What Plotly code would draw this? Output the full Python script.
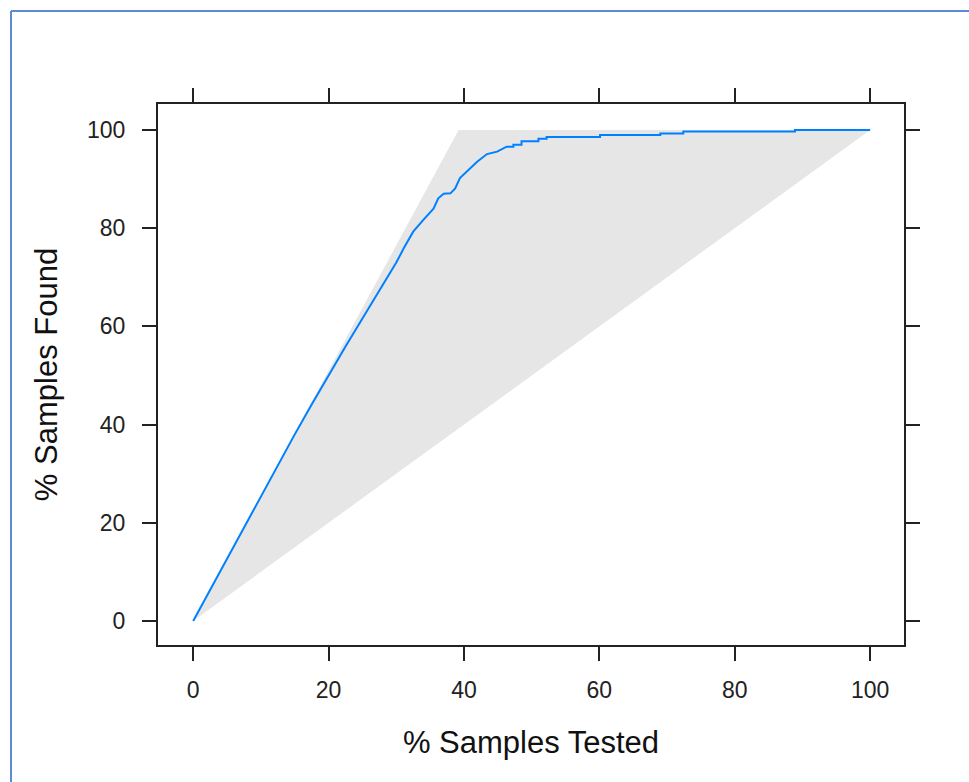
import plotly.graph_objects as go

# Lift curve: cumulative % of samples found vs % of samples tested
pct_tested = [0, 5, 10, 15, 17.5, 20, 22.5, 25, 27.5, 30, 31.1, 32.5, 34, 35.5, 36.2,
              37, 38, 38.7, 39.4, 40.7, 41.9, 43.4, 44.9, 46.3, 47.3, 47.3, 48.5, 48.5,
              51, 51, 52.2, 52.2, 60.1, 60.1, 69, 69, 72.4, 72.4, 88.9, 88.9, 100]
pct_found = [0, 12.7, 25.4, 38.0, 44.1, 50.1, 55.9, 61.6, 67.3, 73.0, 75.9, 79.3, 81.7,
             84.0, 86.1, 87.0, 87.1, 88.1, 90.2, 91.9, 93.5, 95.1, 95.6, 96.6, 96.6,
             97.0, 97.0, 97.7, 97.7, 98.2, 98.2, 98.6, 98.6, 99.0, 99.0, 99.3, 99.3,
             99.7, 99.7, 100, 100]

# Region between a perfect model and random ordering
event_rate = 39.2
region_x = [0, event_rate, 100, 0]
region_y = [0, 100, 100, 0]

x_ticks = [0, 20, 40, 60, 80, 100]
y_ticks = [0, 20, 40, 60, 80, 100]

W, H = 969, 782
ML, MR, MT, MB = 158, 65, 104, 137

fig = go.Figure()
fig.add_trace(go.Scatter(x=region_x, y=region_y, fill="toself", mode="lines",
                         line=dict(width=0, color="#E6E6E6"), fillcolor="#E6E6E6",
                         hoverinfo="skip", showlegend=False))
fig.add_trace(go.Scatter(x=pct_tested, y=pct_found, mode="lines",
                         line=dict(color="#0080FF", width=2),
                         showlegend=False))

axis_common = dict(showline=True, linecolor="#222222", linewidth=2, mirror="ticks",
                   ticks="outside", ticklen=14, tickwidth=2, tickcolor="#222222",
                   showgrid=False, zeroline=False,
                   tickfont=dict(family="Liberation Sans, Arial", size=23, color="#222222"))

fig.update_xaxes(range=[-5.2, 105.0], tickvals=x_ticks, ticklabelstandoff=9,
                 title=dict(text="% Samples Tested", standoff=30,
                            font=dict(family="Liberation Sans, Arial", size=31, color="#111111")),
                 **axis_common)
fig.update_yaxes(range=[-4.9, 105.3], tickvals=y_ticks, ticklabelstandoff=12,
                 title=dict(text="% Samples Found", standoff=20,
                            font=dict(family="Liberation Sans, Arial", size=31, color="#111111")),
                 **axis_common)

# Thin blue frame along the top and left edges of the page
pw = W - ML - MR
ph = H - MT - MB
def px_to_paper_x(px):
    return (px - ML) / pw
def py_to_paper_y(py):
    return (H - MB - py) / ph

frame_color = "#5B8BD0"
fig.add_shape(type="line", xref="paper", yref="paper",
              x0=px_to_paper_x(11), x1=px_to_paper_x(W + 5),
              y0=py_to_paper_y(11), y1=py_to_paper_y(11),
              line=dict(color=frame_color, width=2))
fig.add_shape(type="line", xref="paper", yref="paper",
              x0=px_to_paper_x(11), x1=px_to_paper_x(11),
              y0=py_to_paper_y(11), y1=py_to_paper_y(H + 5),
              line=dict(color=frame_color, width=2))

fig.update_layout(width=W, height=H, margin=dict(l=ML, r=MR, t=MT, b=MB),
                  plot_bgcolor="white", paper_bgcolor="white")

fig.write_html("out.html")
